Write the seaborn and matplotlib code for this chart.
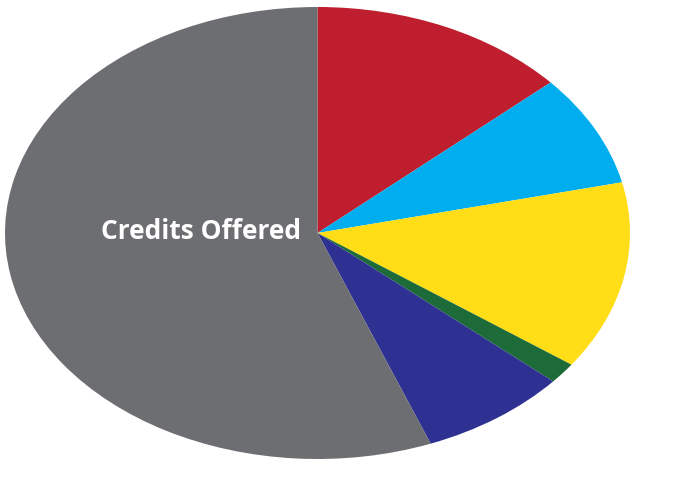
import matplotlib
matplotlib.use("Agg")
import matplotlib.pyplot as plt
import seaborn as sns

# slice shares, clockwise from 12 o'clock
slices = ["Red", "Blue", "Yellow", "Green", "Dark Blue", "Credits Offered"]
shares = [13.4, 8.0, 13.5, 1.5, 7.7, 55.9]
colors = ["#be1e2d", "#00aeef", "#ffde17", "#1c6b38", "#2e3192", "#6d6e71"]

sns.set_theme(style="white")
plt.rcParams['font.family'] = ['Open Sans', 'DejaVu Sans']

fig = plt.figure(figsize=(6.85, 4.81), dpi=100)
ax = fig.add_axes([5 / 685, 21 / 481, 625 / 685, 452 / 481])

ax.pie(shares, colors=colors, startangle=90, counterclock=False,
       wedgeprops={"linewidth": 0})
ax.set_aspect('auto')
ax.set_xlim(-1, 1)
ax.set_ylim(-1, 1)
ax.axis('off')

ax.text(-0.374, 0.01, "Credits Offered", color="white", fontsize=19,
        fontweight="bold", ha="center", va="center")

fig.savefig("out.png", dpi=100, facecolor="white")
